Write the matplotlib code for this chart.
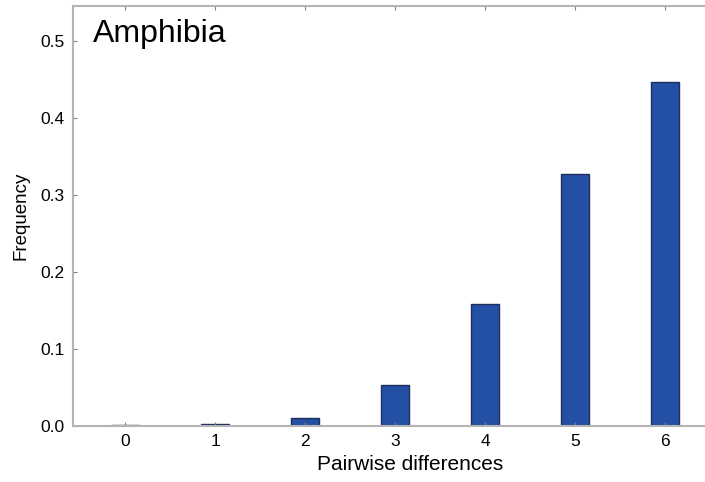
import numpy as np
import matplotlib
matplotlib.use("Agg")
from matplotlib import pyplot as plt

plt.rcParams['font.family'] = ['Liberation Sans', 'DejaVu Sans']

# Pairwise differences histogram (Amphibia)
diffs = [0, 1, 2, 3, 4, 5, 6]
freq = [0.001, 0.003, 0.011, 0.053, 0.158, 0.327, 0.446]
y_ticks = [0.0, 0.1, 0.2, 0.3, 0.4, 0.5]

fig = plt.figure(figsize=(7.05, 4.82), dpi=100)
ax = fig.add_axes([0.1035, 0.116, 0.956, 0.8716])

ax.bar(diffs, freq, width=0.31, color='#2350a5', edgecolor='#1f2f5a', linewidth=1.0)

ax.set_xlim(-0.578, 6.91)
ax.set_ylim(0, 0.545)
ax.set_xticks(diffs)
ax.set_yticks(y_ticks)
ax.set_yticklabels(['%.1f' % v for v in y_ticks])

for s in ax.spines.values():
    s.set_color('#b4b4b4')
    s.set_linewidth(1.5)

ax.tick_params(axis='both', direction='in', length=3, color='#808080', labelsize=12.5, pad=6)
ax.tick_params(top=True, right=True)

ax.set_xlabel('Pairwise differences', fontsize=15, labelpad=4)
ax.set_ylabel('Frequency', fontsize=13.5, labelpad=8)

ax.text(0.03, 0.968, 'Amphibia', transform=ax.transAxes, fontsize=23, va='top', ha='left')

fig.savefig('out.png', dpi=100)
